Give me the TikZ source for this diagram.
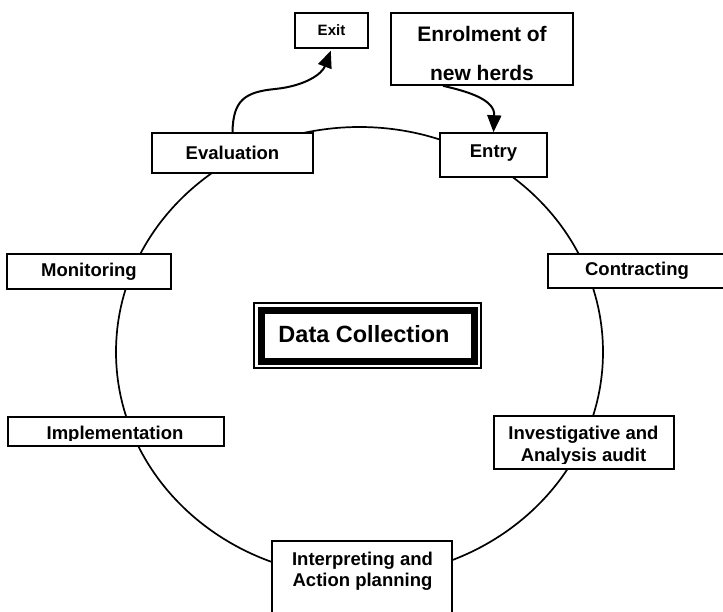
\documentclass[tikz,border=0pt]{standalone}
\usepackage{fontspec}
\setmainfont{Liberation Sans}
\usetikzlibrary{arrows.meta}
\tikzset{
  box/.style={draw, line width=1.6pt, fill=white, inner sep=0pt},
  lbl/.style={font=\bfseries\fontsize{18.5}{21.5}\selectfont, inner sep=0pt, align=center},
  conn/.style={line width=2pt, -{Triangle[length=17pt,width=14pt]}},
  ring/.style={line width=1.7pt}
}
\begin{document}
\begin{tikzpicture}[x=1pt,y=-1pt]
\useasboundingbox (0,0) rectangle (723,611);
\clip (0,0) rectangle (723,611);
% the cycle
\draw[ring] (359.5,352) ellipse [x radius=243.5pt, y radius=225pt];
% top
\node[box, minimum width=73pt, minimum height=35pt, font=\bfseries\fontsize{15}{17}\selectfont] (exit) at (331.5,30.5) {Exit};
\node[box, minimum width=182pt, minimum height=72pt] (enrol) at (482,49) {};
\node[lbl, font=\bfseries\fontsize{21}{39}\selectfont] (enroltext) at (482,53.5) {Enrolment of\\new herds};
\node[box, lbl, minimum width=161pt, minimum height=40pt] (eval) at (232.5,153) {Evaluation};
\node[box, minimum width=107pt, minimum height=44pt] (entry) at (493.5,155) {};
\node[lbl] (entrytext) at (493.5,153.5) {Entry};
% sides
\node[box, lbl, minimum width=164pt, minimum height=35pt] (monit) at (89,271.5) {Monitoring};
\node[box, lbl, minimum width=178pt, minimum height=34pt] (contr) at (637,271) {Contracting};
\node[box, minimum width=216pt, minimum height=29pt] (impl) at (116,431.5) {};
\begin{scope}
  \clip (impl.north west) rectangle ([yshift=6.5pt]impl.south east);
  \node[lbl] (impltext) at (115,435) {Implementation};
\end{scope}
\node[box, minimum width=180pt, minimum height=53pt] (invest) at (584,442.5) {};
\begin{scope}
  \clip (invest.north west) rectangle ([yshift=6pt]invest.south east);
  \node[lbl, font=\bfseries\fontsize{18.5}{22}\selectfont] (investtext) at (583.5,445.5) {Investigative and\\Analysis audit};
\end{scope}
\node[box, minimum width=180pt, minimum height=79pt] (interp) at (362,580.5) {};
\node[lbl] (interptext) at (362.5,571) {Interpreting and\\Action planning};
% centre
\node[draw, line width=1.2pt, fill=white, minimum width=227pt, minimum height=65pt, inner sep=0pt] (dcouter) at (367.5,335.5) {};
\node[draw, line width=7pt, minimum width=213pt, minimum height=51pt, inner sep=0pt] (dcinner) at (367.5,335.5) {};
\node[lbl, font=\bfseries\fontsize{23.5}{26}\selectfont] (dc) at (364,334.5) {Data Collection};
% connectors
\draw[conn, shorten >=2pt] (eval.north) .. controls (233,100) and (245,92) .. (275,89)
  .. controls (305,86) and (322,74) .. (exit.south);
\draw[conn] ([xshift=-39pt]enrol.south) .. controls (470,92) and (495,100) .. (entry.north);
\end{tikzpicture}
\end{document}
